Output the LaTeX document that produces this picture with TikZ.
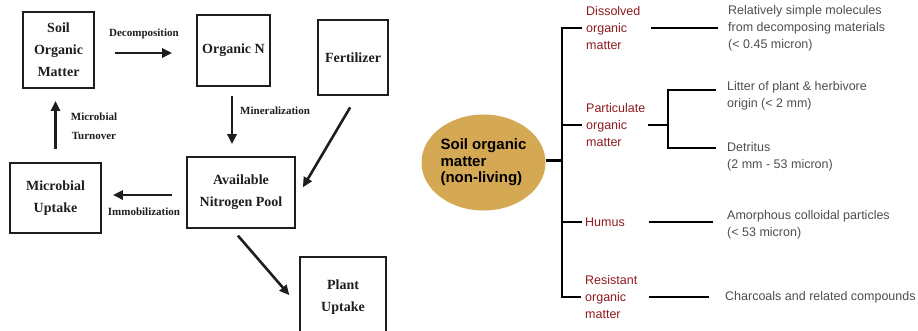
\documentclass[tikz,border=0pt]{standalone}
\usepackage{fontspec}
\setmainfont{Liberation Serif}
\newfontfamily\sorgsans{Liberation Sans}
\usetikzlibrary{arrows.meta,shapes.geometric}
\definecolor{sorgold}{HTML}{D5A853}
\definecolor{sorgred}{HTML}{8E1B1F}
\definecolor{sorggrey}{HTML}{4E4E4E}
\definecolor{scanink}{HTML}{1E1E1E}

\begin{document}
\begin{tikzpicture}[x=1pt, y=-1pt,
        box/.style={draw=scanink, line width=1.6pt, align=center, inner sep=0pt, text=scanink,
                    font=\bfseries\fontsize{14}{22}\selectfont},
        lbl/.style={align=center, inner sep=1pt, text=scanink,
                    font=\bfseries\fontsize{11}{19}\selectfont},
        arrow/.style={-{Triangle[length=10pt,width=9pt]}, draw=scanink, line width=2.6pt},
        blob/.style={ellipse, fill=sorgold, inner sep=0pt, minimum width=124pt, minimum height=96pt,
                     align=left, font=\sorgsans\bfseries\fontsize{15}{16.5}\selectfont},
        kind/.style={anchor=west, align=left, inner sep=2pt, text=sorgred,
                     font=\sorgsans\fontsize{12.5}{17}\selectfont},
        desc/.style={anchor=west, align=left, inner sep=2pt, text=sorggrey,
                     font=\sorgsans\fontsize{12.5}{17}\selectfont},
        tree/.style={draw=black, line width=2.2pt}
      ]
        \useasboundingbox (0,0) rectangle (918,330);
        \clip (0,0) rectangle (918,330);

        % nitrogen cycle
        \node[box, minimum width=71pt, minimum height=76pt]  (som)   at (58.5,50)  {Soil\\Organic\\Matter};
        \node[box, minimum width=73pt, minimum height=71pt]  (orgn)  at (233.5,50.5) {Organic N};
        \node[box, minimum width=70pt, minimum height=75pt]  (fert)  at (353,57.5) {Fertilizer};
        \node[box, minimum width=108pt, minimum height=71pt] (pool)  at (241,192.5) {Available\\Nitrogen Pool};
        \node[box, minimum width=91pt, minimum height=70pt]  (mup)   at (55.5,198) {Microbial\\Uptake};
        \node[box, minimum width=86pt, minimum height=80pt]  (plant) at (343,297) {Plant\\Uptake};

        \node[lbl] (dec)  at (144,34) {Decomposition};
        \node[lbl] (turn) at (94,126.5) {Microbial\\Turnover};
        \node[lbl, anchor=west] (mine) at (239,111) {Mineralization};
        \node[lbl] (immo) at (144,212) {Immobilization};

        \draw[arrow, shorten <=20pt, shorten >=24pt] ([yshift=-3pt]som.east) -- ([yshift=-2.5pt]orgn.west);
        \draw[arrow, shorten <=13pt, shorten >=12pt] (mup.north) -- (mup.north |- som.south);
        \draw[arrow, shorten <=9pt, shorten >=12pt] ([xshift=-1.5pt]orgn.south) -- ([xshift=-1.5pt]orgn.south |- pool.north);
        \draw[arrow, shorten <=13.5pt, shorten >=6pt] ([xshift=4pt]fert.south) -- ([xshift=4pt]pool.east);
        \draw[arrow, shorten <=14pt, shorten >=11pt] ([yshift=-2.5pt]pool.west) -- ([yshift=-2.5pt]pool.west -| mup.east);
        \draw[arrow, shorten <=9pt, shorten >=15pt] ([xshift=-9pt]pool.south) -- ([yshift=-9.5pt]plant.west);

        % organic matter classes
        \node[blob] (sorg) at (483.5,162.5) {Soil organic\\matter\\(non-living)};

        \node[kind] (dom) at (584,28)  {Dissolved\\organic\\matter};
        \node[kind] (pom) at (584,125) {Particulate\\organic\\matter};
        \node[kind] (hum) at (583,222) {Humus};
        \node[kind] (rom) at (583,297) {Resistant\\organic\\matter};

        \node[desc] (dd)  at (726,28)    {Relatively simple molecules\\from decomposing materials\\(< 0.45 micron)};
        \node[desc] (lit) at (725,96)    {Litter of plant \& herbivore\\origin (< 2 mm)};
        \node[desc] (det) at (725,156.5) {Detritus\\(2 mm - 53 micron)};
        \node[desc] (amo) at (725,224.5) {Amorphous colloidal particles\\(< 53 micron)};
        \node[desc] (cha) at (723,297)   {Charcoals and related compounds};

        \coordinate (tr)   at (562,0);
        \coordinate (pj)   at (668,0);
        \coordinate (lita) at ([yshift=6pt]lit.west);
        \coordinate (deta) at ([yshift=8.5pt]det.west);
        \coordinate (amoa) at ([yshift=2.5pt]amo.west);

        \draw[tree] ([yshift=2pt]sorg.east) -- ([yshift=2pt]sorg.east -| tr);
        \draw[tree, shorten <=2pt, shorten >=2pt] (dom.west) -- (dom.west -| tr) -- (rom.west -| tr) -- (rom.west);
        \draw[tree, shorten >=2pt] (pom.west -| tr) -- (pom.west);
        \draw[tree, shorten >=1pt] (hum.west -| tr) -- (hum.west);

        \draw[tree, shorten <=8pt, shorten >=8pt] (dom.east) -- (dd.west);
        \draw[tree, shorten <=1pt] (pom.east) -- (pom.east -| pj);
        \draw[tree, shorten <=9pt, shorten >=9pt] (lita) -- (lita -| pj) -- (deta -| pj) -- (deta);
        \draw[tree, shorten <=22pt, shorten >=12pt] (hum.east |- amoa) -- (amoa);
        \draw[tree, shorten <=9pt, shorten >=14pt] (rom.east) -- (rom.east -| cha.west);
      \end{tikzpicture}
\end{document}
